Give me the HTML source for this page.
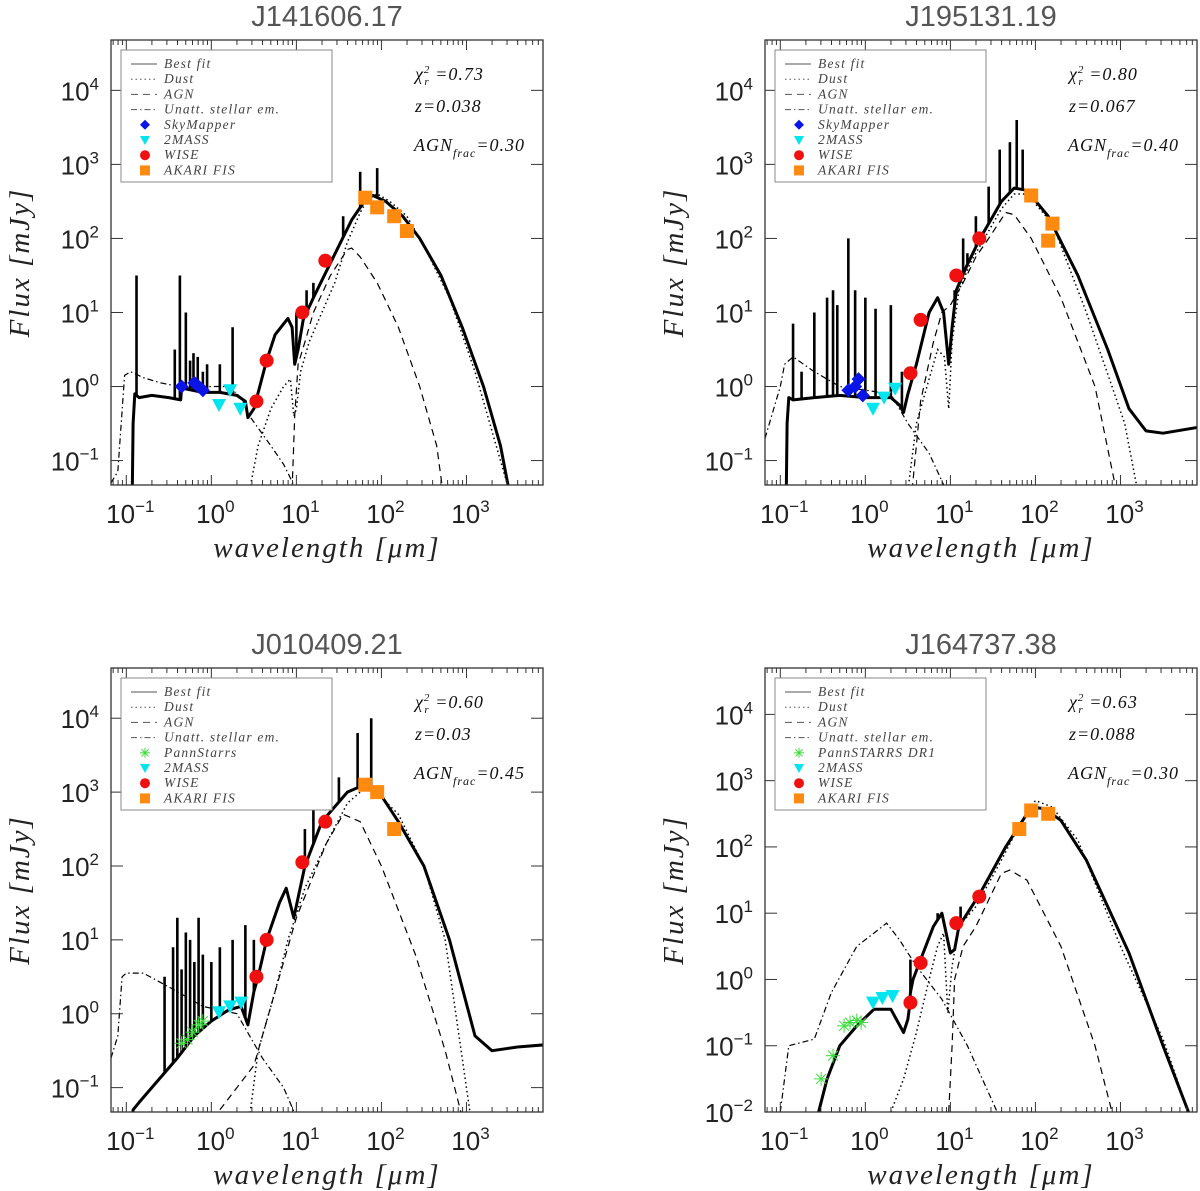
<!DOCTYPE html>
<html><head><meta charset="utf-8">
<style>
html,body{margin:0;padding:0;background:#fff;}
svg{display:block;}
text{font-family:"Liberation Sans",sans-serif;}
.it{font-family:"Liberation Serif",serif;font-style:italic;}
</style></head>
<body>
<svg id="chart" width="1200" height="1191" viewBox="0 0 1200 1191" xmlns="http://www.w3.org/2000/svg"></svg>
<script>
// ---------- DATA (log10 wavelength [um], log10 flux [mJy]) ----------
const titles = ["J141606.17","J195131.19","J010409.21","J164737.38"];
const chiVals = ["0.73","0.80","0.60","0.63"];
const zVals = ["0.038","0.067","0.03","0.088"];
const agnVals = ["0.30","0.40","0.45","0.30"];
const optSurvey = ["SkyMapper","SkyMapper","PannStarrs","PannSTARRS DR1"];
const yMinLog = [-1.33,-1.33,-1.33,-2];
const yMaxLog = [4.68,4.68,4.68,4.7];

// panel 1
const best1X=[-0.93,-0.92,-0.9,-0.85,-0.7,-0.5,-0.36,-0.35,-0.1,0.1,0.3,0.4,0.43,0.5,0.65,0.75,0.9,0.95,0.98,1.02,1.08,1.2,1.35,1.5,1.65,1.8,1.9,2.05,2.25,2.45,2.7,2.95,3.2,3.4,3.5];
const best1Y=[-1.4,-0.5,-0.1,-0.15,-0.12,-0.15,-0.18,-0.02,-0.08,-0.08,-0.12,-0.2,-0.42,-0.3,0.35,0.7,0.92,0.8,0.3,0.5,0.9,1.2,1.55,1.9,2.25,2.5,2.58,2.5,2.3,2.0,1.5,0.8,0.0,-0.8,-1.4];
const dust1X=[0.45,0.55,0.7,0.85,0.93,0.97,1.0,1.05,1.15,1.3,1.45,1.6,1.75,1.85,1.95,2.1,2.3,2.5,2.8,3.1,3.35,3.5];
const dust1Y=[-1.4,-0.8,-0.3,0.0,0.1,-0.4,-0.3,0.2,0.6,1.0,1.4,1.95,2.35,2.55,2.6,2.5,2.3,1.9,1.2,0.2,-0.8,-1.4];
const agn1X=[0.95,0.98,1.02,1.1,1.2,1.4,1.6,1.65,1.75,1.95,2.2,2.45,2.65,2.72];
const agn1Y=[-1.4,-0.4,0.3,0.6,1.0,1.5,1.85,1.87,1.75,1.4,0.8,0.0,-0.8,-1.4];
const star1X=[-1.18,-1.1,-1.02,-0.95,-0.8,-0.6,-0.3,0.0,0.2,0.35,0.45,0.7,0.85,1.0];
const star1Y=[-1.3,-1.15,0.15,0.2,0.12,0.05,-0.02,0.0,0.0,-0.15,-0.4,-0.8,-1.05,-1.4];
const spk1X=[-0.88,-0.43,-0.37,-0.3,-0.25,-0.21,-0.16,-0.1,-0.05,0.1,0.25,0.38,1.0,1.12,1.2,1.55,1.75,1.95];
const spk1Y=[1.5,0.5,1.5,1.0,0.35,0.45,0.4,0.2,0.3,0.3,0.8,-0.2,1.0,1.3,1.4,2.3,2.9,2.95];
const opt1X=[-0.35,-0.2,-0.15,-0.1];
const opt1Y=[0.0,0.05,0.0,-0.05];
const tm1X=[0.09,0.22,0.34];
const tm1Y=[-0.25,-0.05,-0.3];
const wise1X=[0.53,0.65,1.07,1.34];
const wise1Y=[-0.2,0.35,1.0,1.7];
const ak1X=[1.81,1.95,2.15,2.3];
const ak1Y=[2.55,2.42,2.3,2.1];

// panel 2
const best2X=[-0.93,-0.92,-0.9,-0.85,-0.6,-0.3,0.0,0.3,0.4,0.45,0.5,0.6,0.75,0.85,0.92,0.98,1.02,1.07,1.2,1.35,1.5,1.6,1.75,1.9,2.15,2.5,2.85,3.1,3.3,3.5,3.92];
const best2Y=[-1.4,-0.5,-0.15,-0.18,-0.15,-0.12,-0.15,-0.15,-0.25,-0.35,-0.1,0.3,1.0,1.2,1.0,0.3,0.8,1.3,1.65,2.0,2.3,2.5,2.68,2.65,2.3,1.5,0.5,-0.3,-0.6,-0.63,-0.55];
const dust2X=[0.5,0.6,0.75,0.85,0.93,0.98,1.02,1.1,1.25,1.4,1.6,1.75,1.9,2.2,2.6,2.9,3.05,3.2];
const dust2Y=[-1.4,-0.5,0.1,0.5,0.4,-0.3,0.6,1.3,1.7,2.0,2.4,2.6,2.6,2.2,1.0,0.0,-0.5,-1.4];
const agn2X=[0.55,0.65,0.8,0.9,1.0,1.15,1.3,1.45,1.65,1.75,1.95,2.3,2.7,2.95];
const agn2Y=[-1.4,-0.2,0.6,1.0,1.1,1.4,1.75,2.0,2.35,2.32,2.0,1.2,0.0,-1.4];
const star2X=[-1.18,-1.0,-0.95,-0.85,-0.6,-0.3,0.0,0.3,0.5,0.75,0.95];
const star2Y=[-0.7,0.0,0.3,0.4,0.2,0.0,-0.05,-0.1,-0.5,-0.9,-1.4];
const spk2X=[-0.85,-0.75,-0.6,-0.45,-0.38,-0.33,-0.2,-0.12,0.0,0.12,0.3,0.43,1.05,1.15,1.2,1.3,1.45,1.58,1.7,1.78,1.85];
const spk2Y=[0.85,0.2,1.0,1.2,1.3,1.1,2.0,1.3,1.2,1.05,1.1,0.2,1.3,2.0,1.8,2.3,2.7,3.2,3.3,3.6,3.2];
const opt2X=[-0.2,-0.12,-0.08,-0.03];
const opt2Y=[-0.05,0.0,0.1,-0.12];
const tm2X=[0.09,0.22,0.35];
const tm2Y=[-0.3,-0.15,-0.03];
const wise2X=[0.53,0.65,1.07,1.34];
const wise2Y=[0.18,0.9,1.5,2.0];
const ak2X=[1.95,2.15,2.2];
const ak2Y=[2.58,1.97,2.2];

// panel 3
const best3X=[-0.93,-0.92,-0.85,-0.7,-0.4,-0.2,0.0,0.2,0.35,0.43,0.5,0.55,0.65,0.8,0.88,0.97,1.1,1.3,1.6,1.8,2.0,2.2,2.5,2.8,3.1,3.3,3.6,3.92];
const best3Y=[-1.4,-1.3,-1.2,-1.0,-0.6,-0.3,-0.1,0.05,0.1,-0.15,0.3,0.5,1.0,1.5,1.7,1.3,2.0,2.6,3.0,3.1,2.95,2.6,2.0,1.0,-0.3,-0.5,-0.45,-0.42];
const dust3X=[0.45,0.55,0.75,0.9,1.1,1.35,1.6,1.75,1.85,2.2,2.5,2.75,3.05];
const dust3Y=[-1.4,-0.5,0.3,1.0,1.7,2.3,2.85,3.0,3.1,2.7,2.0,1.0,-1.4];
const agn3X=[0.1,0.3,0.5,0.75,1.0,1.35,1.55,1.75,2.0,2.4,2.75,2.95];
const agn3Y=[-1.3,-1.0,-0.7,0.3,1.3,2.3,2.7,2.6,2.0,0.8,-0.5,-1.4];
const star3X=[-1.18,-1.1,-1.05,-1.0,-0.8,-0.4,-0.1,0.3,0.6,0.85,1.0];
const star3Y=[-0.6,-0.3,0.5,0.55,0.55,0.3,0.1,0.0,-0.6,-1.0,-1.4];
const spk3X=[-0.55,-0.45,-0.4,-0.35,-0.3,-0.25,-0.2,-0.15,-0.1,0.0,0.1,0.25,0.4,0.5,1.1,1.2,1.5,1.72,1.88];
const spk3Y=[0.5,0.9,1.3,0.6,1.1,1.0,0.7,1.3,0.8,0.7,0.9,1.0,1.2,1.0,2.5,2.9,3.2,3.8,4.0];
const opt3X=[-0.35,-0.28,-0.22,-0.15,-0.1];
const opt3Y=[-0.4,-0.35,-0.25,-0.15,-0.1];
const tm3X=[0.09,0.22,0.35];
const tm3Y=[0.02,0.1,0.15];
const wise3X=[0.53,0.65,1.07,1.34];
const wise3Y=[0.5,1.0,2.05,2.6];
const ak3X=[1.81,1.95,2.15];
const ak3Y=[3.1,3.0,2.5];

// panel 4
const best4X=[-0.55,-0.45,-0.3,-0.1,0.1,0.3,0.45,0.5,0.52,0.53,0.56,0.65,0.8,0.9,1.0,1.05,1.1,1.2,1.35,1.65,1.95,2.1,2.3,2.6,3.1,3.5,3.8];
const best4Y=[-2.0,-1.5,-1.0,-0.7,-0.45,-0.45,-0.8,-0.6,-0.4,-0.2,0.0,0.3,0.8,1.0,0.4,0.45,0.8,1.0,1.3,2.0,2.6,2.58,2.4,1.8,0.4,-1.0,-2.0];
const dust4X=[0.3,0.45,0.6,0.75,0.85,0.92,0.97,1.02,1.1,1.3,1.6,1.8,2.0,2.2,2.5,3.0,3.5,3.8];
const dust4Y=[-2.0,-1.5,-0.8,0.0,0.5,0.7,-0.5,0.2,0.8,1.1,1.8,2.3,2.7,2.6,2.1,0.5,-0.9,-2.0];
const agn4X=[0.98,1.02,1.05,1.15,1.3,1.45,1.6,1.7,1.9,2.3,2.7,2.9];
const agn4Y=[-2.0,-1.0,0.0,0.5,0.8,1.2,1.6,1.65,1.5,0.5,-1.0,-2.0];
const star4X=[-1.0,-0.9,-0.75,-0.6,-0.4,-0.1,0.1,0.25,0.4,0.6,0.9,1.2,1.55];
const star4Y=[-2.0,-1.0,-0.95,-0.9,-0.2,0.5,0.7,0.85,0.6,0.2,-0.3,-1.0,-2.0];
const spk4X=[0.53,0.85,1.12];
const spk4Y=[0.3,1.0,1.1];
const opt4X=[-0.52,-0.38,-0.25,-0.18,-0.1,-0.05];
const opt4Y=[-1.5,-1.15,-0.7,-0.65,-0.62,-0.65];
const tm4X=[0.09,0.2,0.32];
const tm4Y=[-0.35,-0.28,-0.25];
const wise4X=[0.53,0.65,1.07,1.34];
const wise4Y=[-0.35,0.25,0.85,1.25];
const ak4X=[1.81,1.95,2.15];
const ak4Y=[2.27,2.55,2.5];

const xTickVals=[-1,0,1,2,3];

// ---------- RENDER ----------
const NS="http://www.w3.org/2000/svg";
const svg=document.getElementById('chart');
function mk(tag,attrs,parent){const e=document.createElementNS(NS,tag);for(const k in attrs)e.setAttribute(k,attrs[k]);(parent||svg).appendChild(e);return e;}

const boxes=[{x0:111,x1:543,y0:40,y1:485},{x0:765,x1:1197,y0:40,y1:485},{x0:111,x1:543,y0:668,y1:1112},{x0:765,x1:1197,y0:668,y1:1112}];
const xMinLog=-1.18, xMaxLog=3.9;
const panels=[
 {best:[best1X,best1Y],dust:[dust1X,dust1Y],agn:[agn1X,agn1Y],star:[star1X,star1Y],spk:[spk1X,spk1Y],opt:[opt1X,opt1Y],tm:[tm1X,tm1Y],wise:[wise1X,wise1Y],ak:[ak1X,ak1Y],optType:'diamond'},
 {best:[best2X,best2Y],dust:[dust2X,dust2Y],agn:[agn2X,agn2Y],star:[star2X,star2Y],spk:[spk2X,spk2Y],opt:[opt2X,opt2Y],tm:[tm2X,tm2Y],wise:[wise2X,wise2Y],ak:[ak2X,ak2Y],optType:'diamond'},
 {best:[best3X,best3Y],dust:[dust3X,dust3Y],agn:[agn3X,agn3Y],star:[star3X,star3Y],spk:[spk3X,spk3Y],opt:[opt3X,opt3Y],tm:[tm3X,tm3Y],wise:[wise3X,wise3Y],ak:[ak3X,ak3Y],optType:'star'},
 {best:[best4X,best4Y],dust:[dust4X,dust4Y],agn:[agn4X,agn4Y],star:[star4X,star4Y],spk:[spk4X,spk4Y],opt:[opt4X,opt4Y],tm:[tm4X,tm4Y],wise:[wise4X,wise4Y],ak:[ak4X,ak4Y],optType:'star'}
];

function interp(xs,ys,x){if(x<=xs[0])return ys[0];for(let i=1;i<xs.length;i++){if(x<=xs[i]){const t=(x-xs[i-1])/(xs[i]-xs[i-1]);return ys[i-1]+t*(ys[i]-ys[i-1]);}}return ys[ys.length-1];}

panels.forEach((p,i)=>{
 const b=boxes[i], ymn=yMinLog[i], ymx=yMaxLog[i];
 const sx=v=>b.x0+(v-xMinLog)/(xMaxLog-xMinLog)*(b.x1-b.x0);
 const sy=v=>b.y1-(v-ymn)/(ymx-ymn)*(b.y1-b.y0);
 const g=mk('g',{});
 
 
 const cid='clip'+i;
 const cp=mk('clipPath',{id:cid},g);mk('rect',{x:b.x0,y:b.y0,width:b.x1-b.x0,height:b.y1-b.y0},cp);
 const t=mk('text',{x:(b.x0+b.x1)/2,y:b.y0-14,'text-anchor':'middle','font-size':29,fill:'#555'},g);t.textContent=titles[i];
 
 const d=mk('g',{'clip-path':'url(#'+cid+')'},g);
 function line(arr,style,name){
  const pts=arr[0].map((x,k)=>sx(x).toFixed(1)+','+sy(arr[1][k]).toFixed(1)).join(' ');
  const el=mk('polyline',Object.assign({points:pts,fill:'none',stroke:'#000'},style),d);
  
 }
 line(p.star,{'stroke-width':1.2,'stroke-dasharray':'6,3,1.5,3'},'stellar-curve');
 line(p.agn,{'stroke-width':1.2,'stroke-dasharray':'7,5'},'agn-curve');
 line(p.dust,{'stroke-width':1.5,'stroke-dasharray':'1.5,3'},'dust-curve');
 line(p.best,{'stroke-width':3,'stroke-linejoin':'round'},'best-fit-curve');
 p.spk[0].forEach((x,k)=>{
  const base=interp(p.best[0],p.best[1],x);
  const el=mk('line',{x1:sx(x),x2:sx(x),y1:sy(base),y2:sy(p.spk[1][k]),stroke:'#000','stroke-width':2.6},d);
  
 });
 p.opt[0].forEach((x,k)=>{
  const cx=sx(x),cy=sy(p.opt[1][k]);let el;
  if(p.optType==='diamond'){el=mk('polygon',{points:`${cx},${cy-7} ${cx+7},${cy} ${cx},${cy+7} ${cx-7},${cy}`,fill:'#0a14e6'},d);}
  else{el=mk('g',{stroke:'#3ddc3d','stroke-width':1},d);for(let a=0;a<4;a++){const an=a*Math.PI/4;mk('line',{x1:cx-7*Math.cos(an),y1:cy-7*Math.sin(an),x2:cx+7*Math.cos(an),y2:cy+7*Math.sin(an)},el);}}
  
 });
 p.tm[0].forEach((x,k)=>{const cx=sx(x),cy=sy(p.tm[1][k]);
  const el=mk('polygon',{points:`${cx-7},${cy-6} ${cx+7},${cy-6} ${cx},${cy+7}`,fill:'#00e5ee'},d);
  });
 p.wise[0].forEach((x,k)=>{
  const el=mk('circle',{cx:sx(x),cy:sy(p.wise[1][k]),r:7,fill:'#f01010'},d);
  });
 p.ak[0].forEach((x,k)=>{const cx=sx(x),cy=sy(p.ak[1][k]);
  const el=mk('rect',{x:cx-7,y:cy-7,width:14,height:14,fill:'#ff8a10'},d);
  });
 const fr=mk('rect',{x:b.x0,y:b.y0,width:b.x1-b.x0,height:b.y1-b.y0,fill:'none',stroke:'#333','stroke-width':1.3},g);
 
 for(let dec=-2;dec<=4;dec++){for(let m=1;m<10;m++){const v=dec+Math.log10(m);
  if(v>xMinLog&&v<xMaxLog){const L=m===1?10:5,X=sx(v);mk('line',{x1:X,x2:X,y1:b.y1,y2:b.y1-L,stroke:'#333'},g);mk('line',{x1:X,x2:X,y1:b.y0,y2:b.y0+L,stroke:'#333'},g);}
 }}
 for(let dec=Math.ceil(ymn);dec<=Math.floor(ymx);dec++){const Y=sy(dec);
  mk('line',{x1:b.x0,x2:b.x0+12,y1:Y,y2:Y,stroke:'#333'},g);mk('line',{x1:b.x1,x2:b.x1-12,y1:Y,y2:Y,stroke:'#333'},g);
  const tl=mk('text',{x:b.x0-12,y:Y+10,'text-anchor':'end','font-size':26,fill:'#222'},g);
  tl.innerHTML='10<tspan dy="-11" font-size="17">'+(dec<0?'−'+(-dec):dec)+'</tspan>';
  
 }
 xTickVals.forEach(v=>{const tl=mk('text',{x:sx(v)+4,y:b.y1+38,'text-anchor':'middle','font-size':26,fill:'#222'},g);
  tl.innerHTML='10<tspan dy="-11" font-size="17">'+(v<0?'−'+(-v):v)+'</tspan>';
  });
 const xt=mk('text',{x:(b.x0+b.x1)/2,y:b.y1+72,'text-anchor':'middle','font-size':29,fill:'#222','class':'it','letter-spacing':'2'},g);
 xt.textContent='wavelength [μm]';
 const yx=b.x0-82, yc=(b.y0+b.y1)/2;
 const yt=mk('text',{x:yx,y:yc,'text-anchor':'middle','font-size':29,fill:'#222','class':'it','letter-spacing':'2',transform:`rotate(-90 ${yx} ${yc})`},g);
 yt.textContent='Flux [mJy]';
 const lg=mk('g',{},g);
 const lx=b.x0+10, ly=b.y0+10;
 mk('rect',{x:lx,y:ly,width:211,height:132,fill:'#fff',stroke:'#888'},lg);
 const labels=['Best fit','Dust','AGN','Unatt. stellar em.',optSurvey[i],'2MASS','WISE','AKARI FIS'];
 const dashes=[null,'1.5,3','7,5','6,3,1.5,3'];
 labels.forEach((s,k)=>{const yy=ly+14+k*15.2;
  if(k<4){const ln=mk('line',{x1:lx+10,x2:lx+36,y1:yy,y2:yy,stroke:'#555','stroke-width':1},lg);if(dashes[k])ln.setAttribute('stroke-dasharray',dashes[k]);}
  else{const cx=lx+24;
   if(k===4){if(p.optType==='diamond')mk('polygon',{points:`${cx},${yy-5} ${cx+5},${yy} ${cx},${yy+5} ${cx-5},${yy}`,fill:'#0a14e6'},lg);
     else for(let a=0;a<4;a++){const an=a*Math.PI/4;mk('line',{x1:cx-5*Math.cos(an),y1:yy-5*Math.sin(an),x2:cx+5*Math.cos(an),y2:yy+5*Math.sin(an),stroke:'#3ddc3d'},lg);}}
   if(k===5)mk('polygon',{points:`${cx-5},${yy-4} ${cx+5},${yy-4} ${cx},${yy+5}`,fill:'#00e5ee'},lg);
   if(k===6)mk('circle',{cx:cx,cy:yy,r:5,fill:'#f01010'},lg);
   if(k===7)mk('rect',{x:cx-5,y:yy-5,width:10,height:10,fill:'#ff8a10'},lg);}
  const tx=mk('text',{x:lx+43,y:yy+4,'font-size':13.5,fill:'#444','class':'it','letter-spacing':'1.2'},lg);tx.textContent=s;
 });
 const ax=b.x0+304;
 const a1=mk('text',{x:ax,y:b.y0+40,'font-size':18,fill:'#111','class':'it','letter-spacing':'1'},g);
 a1.innerHTML='χ<tspan dy="-7" font-size="11">2</tspan><tspan dx="-6" dy="12" font-size="11">r</tspan><tspan dy="-5"> =</tspan>'+chiVals[i];
 
 const a2=mk('text',{x:ax,y:b.y0+72,'font-size':18,fill:'#111','class':'it','letter-spacing':'1'},g);a2.textContent='z='+zVals[i];
 
 const a3=mk('text',{x:ax-1,y:b.y0+111,'font-size':18,fill:'#111','class':'it','letter-spacing':'1'},g);
 a3.innerHTML='AGN<tspan dy="6" font-size="12">frac</tspan><tspan dy="-6">='+agnVals[i]+'</tspan>';
 
});
</script>
</body></html>
